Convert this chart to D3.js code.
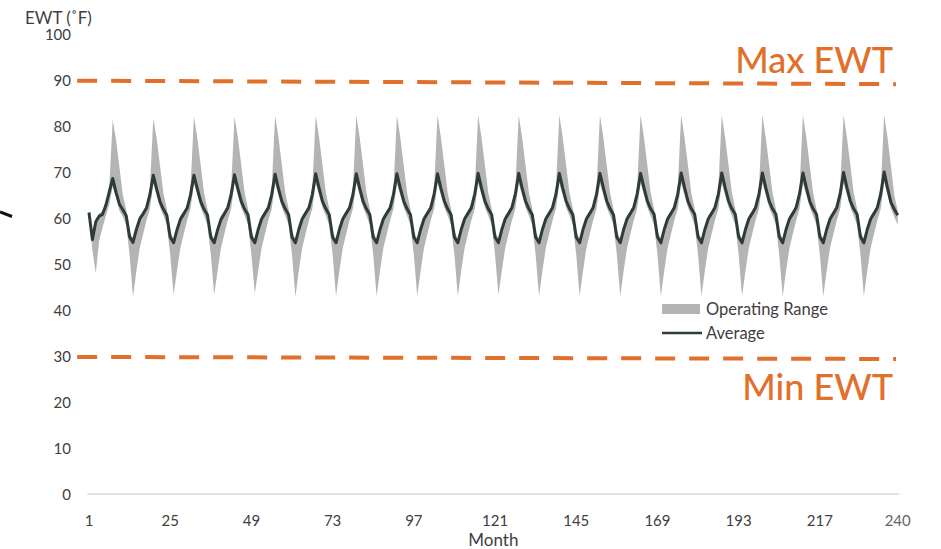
<!DOCTYPE html>
<html>
<head>
<meta charset="utf-8">
<script src="https://cdn.jsdelivr.net/npm/d3@7"></script>
<style>
  html, body { margin: 0; padding: 0; background: #fff; }
  svg { display: block; font-family: Lato, "Open Sans", sans-serif; }
</style>
</head>
<body>
<svg id="chart" width="941" height="549"></svg>
<script>
// ---------- DATA ----------
const xTicks = [1, 25, 49, 73, 97, 121, 145, 169, 193, 217, 240];
const yTicks = [0, 10, 20, 30, 40, 50, 60, 70, 80, 90, 100];
const maxEWT = [[-2.5, 89.85], [239.5, 89.1]];
const minEWT = [[-2.5, 29.8], [239.5, 29.35]];

// Average EWT (deg F), one row per year (12 months)
const avgByYear = [
  [61.2, 55.3, 59.2, 60.4, 60.8, 62.8, 65.7, 68.6, 65.5, 63.0, 61.8, 60.5],
  [55.9, 54.7, 57.5, 59.8, 60.9, 62.2, 65.1, 69.3, 66.3, 63.5, 61.9, 60.6],
  [55.8, 54.6, 57.4, 59.7, 60.9, 62.1, 65.0, 69.3, 66.4, 63.6, 61.9, 60.7],
  [55.8, 54.6, 57.4, 59.7, 60.9, 62.2, 65.1, 69.4, 66.4, 63.6, 61.9, 60.7],
  [55.8, 54.6, 57.5, 59.8, 61.0, 62.2, 65.1, 69.5, 66.4, 63.6, 62.0, 60.7],
  [55.8, 54.6, 57.5, 59.8, 61.0, 62.2, 65.1, 69.6, 66.5, 63.6, 62.0, 60.7],
  [55.8, 54.6, 57.5, 59.8, 61.0, 62.2, 65.1, 69.6, 66.5, 63.6, 62.0, 60.7],
  [55.8, 54.6, 57.5, 59.8, 61.0, 62.2, 65.2, 69.6, 66.5, 63.7, 62.0, 60.7],
  [55.8, 54.6, 57.5, 59.8, 61.0, 62.2, 65.2, 69.6, 66.5, 63.7, 62.0, 60.7],
  [55.8, 54.6, 57.5, 59.8, 61.0, 62.2, 65.2, 69.7, 66.5, 63.7, 62.0, 60.7],
  [55.8, 54.6, 57.5, 59.8, 61.0, 62.3, 65.2, 69.7, 66.5, 63.7, 62.0, 60.7],
  [55.8, 54.6, 57.5, 59.8, 61.0, 62.3, 65.2, 69.7, 66.5, 63.7, 62.0, 60.7],
  [55.8, 54.6, 57.5, 59.8, 61.0, 62.3, 65.2, 69.7, 66.6, 63.7, 62.0, 60.7],
  [55.8, 54.6, 57.5, 59.8, 61.0, 62.3, 65.2, 69.7, 66.6, 63.7, 62.0, 60.8],
  [55.9, 54.6, 57.5, 59.8, 61.0, 62.3, 65.2, 69.8, 66.6, 63.7, 62.0, 60.8],
  [55.9, 54.6, 57.5, 59.8, 61.0, 62.3, 65.2, 69.8, 66.6, 63.7, 62.0, 60.8],
  [55.9, 54.6, 57.5, 59.8, 61.0, 62.3, 65.2, 69.8, 66.6, 63.7, 62.0, 60.8],
  [55.9, 54.6, 57.5, 59.8, 61.0, 62.3, 65.3, 69.8, 66.6, 63.7, 62.0, 60.8],
  [55.9, 54.6, 57.5, 59.8, 61.0, 62.3, 65.3, 69.9, 66.6, 63.7, 62.0, 60.8],
  [55.9, 54.6, 57.5, 59.8, 61.0, 62.3, 65.3, 70.0, 66.5, 63.4, 61.9, 60.6]
];
// Operating range upper bound
const highByYear = [
  [61.5, 56.0, 59.8, 61.0, 61.5, 63.5, 67.0, 81.3, 77.0, 71.0, 65.0, 61.8],
  [57.0, 55.5, 58.0, 60.5, 61.5, 63.0, 66.5, 81.7, 77.3, 71.3, 65.3, 62.0],
  [57.0, 55.5, 58.0, 60.5, 61.5, 63.0, 66.5, 82.0, 77.5, 71.5, 65.5, 62.0],
  [57.0, 55.5, 58.0, 60.5, 61.5, 63.0, 66.5, 82.0, 77.5, 71.5, 65.5, 62.0],
  [57.0, 55.5, 58.0, 60.5, 61.5, 63.0, 66.5, 82.3, 77.5, 71.5, 65.5, 62.0],
  [57.0, 55.5, 58.0, 60.5, 61.5, 63.0, 66.5, 82.3, 77.5, 71.5, 65.5, 62.0],
  [57.0, 55.5, 58.0, 60.5, 61.5, 63.0, 66.5, 82.3, 77.5, 71.5, 65.5, 62.0],
  [57.0, 55.5, 58.0, 60.5, 61.5, 63.0, 66.5, 82.3, 77.5, 71.5, 65.5, 62.0],
  [57.0, 55.5, 58.0, 60.5, 61.5, 63.0, 66.5, 82.4, 77.5, 71.5, 65.5, 62.0],
  [57.0, 55.5, 58.0, 60.5, 61.5, 63.0, 66.5, 82.4, 77.5, 71.5, 65.5, 62.0],
  [57.0, 55.5, 58.0, 60.5, 61.5, 63.0, 66.5, 82.4, 77.5, 71.5, 65.5, 62.0],
  [57.0, 55.5, 58.0, 60.5, 61.5, 63.0, 66.5, 82.4, 77.5, 71.5, 65.5, 62.0],
  [57.0, 55.5, 58.0, 60.5, 61.5, 63.0, 66.5, 82.4, 77.5, 71.5, 65.5, 62.0],
  [57.0, 55.5, 58.0, 60.5, 61.5, 63.0, 66.5, 82.4, 77.5, 71.5, 65.5, 62.0],
  [57.0, 55.5, 58.0, 60.5, 61.5, 63.0, 66.5, 82.4, 77.5, 71.5, 65.5, 62.0],
  [57.0, 55.5, 58.0, 60.5, 61.5, 63.0, 66.5, 82.4, 77.5, 71.5, 65.5, 62.0],
  [57.0, 55.5, 58.0, 60.5, 61.5, 63.0, 66.5, 82.4, 77.5, 71.5, 65.5, 62.0],
  [57.0, 55.5, 58.0, 60.5, 61.5, 63.0, 66.5, 82.4, 77.5, 71.5, 65.5, 62.0],
  [57.0, 55.5, 58.0, 60.5, 61.5, 63.0, 66.5, 82.4, 77.5, 71.5, 65.5, 62.0],
  [57.0, 55.5, 58.0, 60.5, 61.5, 63.0, 66.5, 82.4, 77.5, 71.3, 65.0, 61.5]
];
// Operating range lower bound
const lowByYear = [
  [61.0, 53.0, 48.0, 55.0, 58.0, 60.5, 63.0, 66.8, 64.5, 61.5, 60.3, 58.5],
  [52.0, 42.9, 48.5, 53.5, 56.5, 59.5, 62.0, 67.5, 65.0, 62.3, 60.5, 58.5],
  [52.0, 43.3, 48.5, 53.5, 56.5, 59.5, 62.0, 67.5, 65.0, 62.3, 60.5, 58.5],
  [52.0, 43.3, 48.5, 53.5, 56.5, 59.5, 62.0, 67.5, 65.0, 62.3, 60.5, 58.5],
  [52.0, 43.6, 48.5, 53.5, 56.5, 59.5, 62.0, 67.5, 65.0, 62.3, 60.5, 58.5],
  [52.0, 42.9, 48.5, 53.5, 56.5, 59.5, 62.0, 67.5, 65.0, 62.3, 60.5, 58.5],
  [52.0, 43.0, 48.5, 53.5, 56.5, 59.5, 62.0, 67.5, 65.0, 62.3, 60.5, 58.5],
  [52.0, 43.0, 48.5, 53.5, 56.5, 59.5, 62.0, 67.5, 65.0, 62.3, 60.5, 58.5],
  [52.0, 43.0, 48.5, 53.5, 56.5, 59.5, 62.0, 67.5, 65.0, 62.3, 60.5, 58.5],
  [52.0, 43.0, 48.5, 53.5, 56.5, 59.5, 62.0, 67.5, 65.0, 62.3, 60.5, 58.5],
  [52.0, 43.3, 48.5, 53.5, 56.5, 59.5, 62.0, 67.5, 65.0, 62.3, 60.5, 58.5],
  [52.0, 43.0, 48.5, 53.5, 56.5, 59.5, 62.0, 67.5, 65.0, 62.3, 60.5, 58.5],
  [52.0, 43.0, 48.5, 53.5, 56.5, 59.5, 62.0, 67.5, 65.0, 62.3, 60.5, 58.5],
  [52.0, 43.0, 48.5, 53.5, 56.5, 59.5, 62.0, 67.5, 65.0, 62.3, 60.5, 58.5],
  [52.0, 43.0, 48.5, 53.5, 56.5, 59.5, 62.0, 67.5, 65.0, 62.3, 60.5, 58.5],
  [52.0, 43.0, 48.5, 53.5, 56.5, 59.5, 62.0, 67.5, 65.0, 62.3, 60.5, 58.5],
  [52.0, 43.0, 48.5, 53.5, 56.5, 59.5, 62.0, 67.5, 65.0, 62.3, 60.5, 58.5],
  [52.0, 43.0, 48.5, 53.5, 56.5, 59.5, 62.0, 67.5, 65.0, 62.3, 60.5, 58.5],
  [52.0, 43.0, 48.5, 53.5, 56.5, 59.5, 62.0, 67.5, 65.0, 62.3, 60.5, 58.5],
  [52.0, 43.0, 48.5, 53.5, 56.5, 59.5, 62.0, 67.8, 65.0, 62.0, 60.2, 58.5]
];

// ---------- CHART ----------
const avg = avgByYear.flat();
const high = highByYear.flat();
const low = lowByYear.flat();
const months = d3.range(1, avg.length + 1);
const rows = months.map((m, i) => ({ m, avg: avg[i], hi: high[i], lo: low[i] }));

const svg = d3.select("#chart");
const textColor = "#404040";
const orange = "#E0702A";

const x = d3.scaleLinear().domain([1, 240]).range([89, 897.7]);
const y = d3.scaleLinear().domain([0, 100]).range([494, 34]);

// x axis baseline
svg.append("line")
  .attr("x1", x(0.5)).attr("x2", x(240.5))
  .attr("y1", y(0)).attr("y2", y(0))
  .attr("stroke", "#d9d9d9").attr("stroke-width", 1.5);

// y tick labels
svg.append("g").selectAll("text").data(yTicks).join("text")
  .attr("x", 71).attr("y", d => y(d))
  .attr("text-anchor", "end").attr("dominant-baseline", "central")
  .attr("font-size", 15).attr("fill", textColor)
  .text(d => d);

// x tick labels
svg.append("g").selectAll("text").data(xTicks).join("text")
  .attr("x", d => x(d)).attr("y", 520)
  .attr("text-anchor", "middle").attr("dominant-baseline", "central")
  .attr("font-size", 15).attr("fill", d => d === 240 ? "#666" : textColor)
  .text(d => d);

// axis titles
svg.append("text").attr("x", x(120.5)).attr("y", 546)
  .attr("text-anchor", "middle")
  .attr("font-size", 17).attr("fill", textColor).text("Month");
svg.append("text").attr("x", 25).attr("y", 24)
  .attr("font-size", 17).attr("fill", textColor).text("EWT (˚F)");

// operating range band
svg.append("path").datum(rows)
  .attr("fill", "#b4b4b4")
  .attr("d", d3.area().x(d => x(d.m)).y0(d => y(d.lo)).y1(d => y(d.hi)));

// average line
svg.append("path").datum(rows)
  .attr("fill", "none").attr("stroke", "#2e3b3b").attr("stroke-width", 3)
  .attr("stroke-linejoin", "round")
  .attr("d", d3.line().x(d => x(d.m)).y(d => y(d.avg)));

// threshold lines
const tline = d3.line().x(d => x(d[0])).y(d => y(d[1]));
[maxEWT, minEWT].forEach(dat => {
  svg.append("path").datum(dat)
    .attr("fill", "none").attr("stroke", orange).attr("stroke-width", 4)
    .attr("stroke-dasharray", "20 14")
    .attr("d", tline);
});
svg.append("text").attr("x", 893).attr("y", 73)
  .attr("text-anchor", "end").attr("font-size", 36).attr("font-weight", 500)
  .attr("fill", orange).text("Max EWT");
svg.append("text").attr("x", 893).attr("y", 400)
  .attr("text-anchor", "end").attr("font-size", 36).attr("font-weight", 500)
  .attr("fill", orange).text("Min EWT");

// legend
const lg = svg.append("g");
lg.append("rect").attr("x", 662).attr("y", 304).attr("width", 38).attr("height", 10)
  .attr("fill", "#b4b4b4");
lg.append("text").attr("x", 706).attr("y", 309).attr("dominant-baseline", "central")
  .attr("font-size", 16.5).attr("fill", textColor).text("Operating Range");
lg.append("line").attr("x1", 662).attr("x2", 702).attr("y1", 333).attr("y2", 333)
  .attr("stroke", "#2e3b3b").attr("stroke-width", 2.5);
lg.append("text").attr("x", 706).attr("y", 333).attr("dominant-baseline", "central")
  .attr("font-size", 16.5).attr("fill", textColor).text("Average");

// stray mark at left edge
svg.append("line").attr("x1", 0).attr("y1", 212).attr("x2", 12).attr("y2", 216.5)
  .attr("stroke", "#111").attr("stroke-width", 3);
</script>
</body>
</html>
